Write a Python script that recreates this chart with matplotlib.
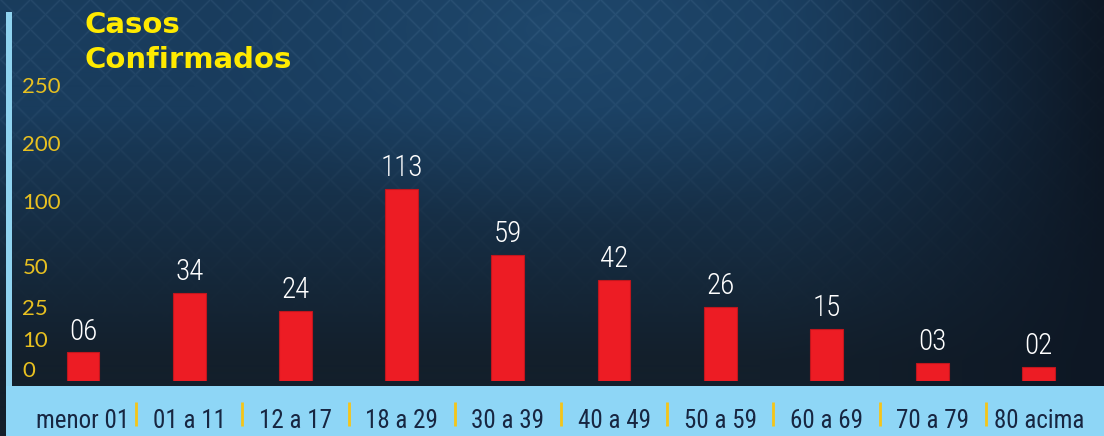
import numpy as np
import matplotlib
matplotlib.use("Agg")
import matplotlib.pyplot as plt
from matplotlib import font_manager as fm
from matplotlib.patches import Rectangle
from matplotlib.scale import FuncScale

# ---------------- data ----------------
categories = ["menor 01", "01 a 11", "12 a 17", "18 a 29", "30 a 39",
              "40 a 49", "50 a 59", "60 a 69", "70 a 79", "80 acima"]
cases = [6, 34, 24, 113, 59, 42, 26, 15, 3, 2]
y_tick_values = [0, 10, 25, 50, 100, 200, 250]
y_tick_labels = ["0", "10", "25", "50", "100", "200", "250"]
title_lines = ["Casos", "Confirmados"]

# ---------------- fonts ----------------
names = {f.name for f in fm.fontManager.ttflist}
def pick(cands):
    for c in cands:
        if c in names:
            return c
    return "DejaVu Sans"
cond_font = pick(["Roboto Condensed", "Liberation Sans Narrow", "Open Sans Condensed", "DejaVu Sans"])
tick_font = pick(["Lato", "Open Sans", "DejaVu Sans"])
title_font = "DejaVu Sans"

W, H = 1104, 436
fig = plt.figure(figsize=(W / 100, H / 100), dpi=100)

# ---------------- background ----------------
bg = fig.add_axes([0, 0, 1, 1], zorder=0)
bg.set_xlim(0, W)
bg.set_ylim(H, 0)
bg.axis("off")
yy, xx = np.mgrid[0:H, 0:W].astype(float)
top_c = np.array([0x19, 0x3c, 0x5d]) / 255
bot_c = np.array([0x13, 0x1f, 0x2b]) / 255
right_c = np.array([0x0d, 0x17, 0x24]) / 255
glow_c = np.array([0x21, 0x4c, 0x72]) / 255
tv = np.clip((yy - 110) / 250, 0, 1) ** 0.9
img = top_c * (1 - tv[..., None]) + bot_c * tv[..., None]
tr = np.clip((xx - 760) / 344, 0, 1) ** 1.3
img = img * (1 - tr[..., None]) + right_c * tr[..., None]
d = np.sqrt(((xx - 560) / 380) ** 2 + ((yy - 30) / 200) ** 2)
g = np.clip(1 - d, 0, 1) ** 1.2 * 0.7
img = img * (1 - g[..., None]) + glow_c * g[..., None]
# diamond lattice pattern (decorative)
p = 30.0
a = np.abs(((xx + yy) % p) - p / 2) / (p / 2)
b = np.abs(((xx - yy) % p) - p / 2) / (p / 2)
lines = np.clip((np.maximum(a, b) - 0.85) / 0.15, 0, 1)
vis = np.clip(1 - (yy - 60) / 260, 0, 1) * np.clip(1 - (xx - 850) / 250, 0.2, 1)
img = img + (lines * 0.045 * vis)[..., None]
img = np.clip(img, 0, 1)
bg.imshow(img, extent=[0, W, H, 0], aspect="auto", interpolation="bilinear")
light_blue = "#8ed6f6"
bg.add_patch(Rectangle((6, 12), 6, 380, color="#8fd3f0", lw=0))
bg.add_patch(Rectangle((6, 386), W - 6, H - 386, color=light_blue, lw=0))

# ---------------- custom y scale (axis layout) ----------------
# power-law part below a breakpoint, linear segments between the upper ticks
p_exp, p_amp, p_break = 0.65, 8.9, 120.0
up_vals = np.array([p_break, 200.0, 250.0])
up_h = np.array([p_amp * p_break ** p_exp, 236.0, 294.0])
s_hi = (up_h[-1] - up_h[-2]) / (up_vals[-1] - up_vals[-2])

def fwd(v):
    v = np.asarray(v, float)
    low = p_amp * np.sign(v) * np.abs(v) ** p_exp
    mid = np.interp(v, up_vals, up_h)
    hi = up_h[-1] + (v - up_vals[-1]) * s_hi
    return np.where(v <= p_break, low, np.where(v <= 250, mid, hi))

def inv(h):
    h = np.asarray(h, float)
    low = np.sign(h) * (np.abs(h) / p_amp) ** (1 / p_exp)
    mid = np.interp(h, up_h, up_vals)
    hi = up_vals[-1] + (h - up_h[-1]) / s_hi
    return np.where(h <= up_h[0], low, np.where(h <= up_h[-1], mid, hi))

# ---------------- main axes ----------------
x0_px, step_px = 83.0, 106.2
ax = fig.add_axes([12 / W, (H - 381) / H, (W - 12) / W, 381 / H], zorder=2)
ax.patch.set_alpha(0)
ax.set_yscale(FuncScale(ax, (fwd, inv)))
x = np.arange(len(categories))
ax.set_xlim((12 - x0_px) / step_px, (W - x0_px) / step_px)
ax.set_ylim(0, float(inv(381)))
for sp in ax.spines.values():
    sp.set_visible(False)

bars = ax.bar(x, cases, width=0.31, color="#ed1c24", edgecolor="#c0161d", linewidth=0.8)
ax.bar_label(bars, labels=[f"{v:02d}" for v in cases], padding=5,
             color="white", fontsize=21, fontfamily=cond_font, fontweight="light")

# x tick labels in the light-blue band
ax.set_xticks(x)
ax.set_xticklabels(categories, fontsize=18, fontfamily=cond_font, color="#172641",
                   va="baseline")
ax.tick_params(axis="x", length=0, pad=34)

# y tick labels (yellow, inside)
ax.set_yticks(y_tick_values)
ax.set_yticklabels(y_tick_labels, fontsize=16, fontfamily=tick_font,
                   color="#e8c020", ha="left")
ax.tick_params(axis="y", length=0, pad=-7.5)
for lab in ax.get_yticklabels():
    lab.set_va("center")
ax.get_yticklabels()[0].set_va("bottom")

# separators between categories
sep_ax = fig.add_axes([12 / W, 0, (W - 12) / W, (H - 386) / H], zorder=1)
sep_ax.set_xlim(ax.get_xlim())
sep_ax.set_ylim(H, 386)
sep_ax.axis("off")
sep_ax.vlines(x[:-1] + 0.5, 402, 426, color="#f5c518", lw=2)

# title
fig.text(85 / W, 1 - 33 / H, title_lines[0], color="#ffea00", fontsize=21,
         fontfamily=title_font, fontweight="bold", va="baseline", ha="left", zorder=5)
fig.text(85 / W, 1 - 68 / H, title_lines[1], color="#ffea00", fontsize=21,
         fontfamily=title_font, fontweight="bold", va="baseline", ha="left", zorder=5)

fig.savefig("out.png", dpi=100)
